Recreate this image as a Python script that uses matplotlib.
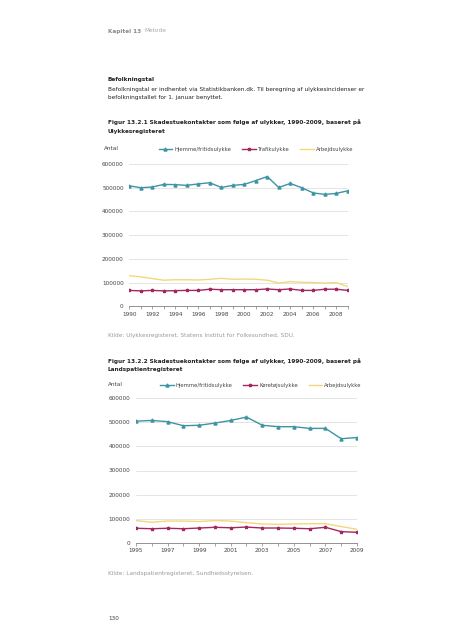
import matplotlib
matplotlib.use("Agg")
import matplotlib.pyplot as plt
from matplotlib.lines import Line2D

# ---------------------------------------------------------- data
years1 = list(range(1990, 2010))
hjemme1 = [508000, 500000, 503000, 514000, 513000, 510000, 516000, 521000, 501000, 510000,
           514000, 530000, 547000, 501000, 518000, 500000, 478000, 472000, 476000, 487000]
trafik1 = [67000, 65000, 67000, 65000, 66000, 67000, 67000, 72000, 70000, 70000,
           70000, 70000, 73000, 70000, 73000, 67000, 67000, 72000, 72000, 67000]
arbejd1 = [129000, 124000, 117000, 110000, 112000, 112000, 111000, 114000, 118000, 114000,
           115000, 114000, 110000, 98000, 104000, 101000, 100000, 98000, 100000, 83000]

years2 = list(range(1995, 2010))
hjemme2 = [505000, 508000, 503000, 486000, 488000, 497000, 508000, 522000, 488000, 482000,
           482000, 475000, 475000, 432000, 437000]
koretoj2 = [60000, 58000, 60000, 58000, 61000, 64000, 62000, 65000, 61000, 61000,
            60000, 58000, 64000, 46000, 43000]
arbejd2 = [92000, 85000, 90000, 90000, 88000, 92000, 90000, 83000, 78000, 76000,
           78000, 79000, 79000, 67000, 56000]

yticks = [0, 100000, 200000, 300000, 400000, 500000, 600000]
labels1 = ["Hjemme/fritidsulykke", "Trafikulykke", "Arbejdsulykke"]
labels2 = ["Hjemme/fritidsulykke", "Køretøjsulykke", "Arbejdsulykke"]

teal = "#3d95a3"
red = "#a3285f"
yellow = "#f3d77a"
fs = 4.15
W, H = 452, 640

fig = plt.figure(figsize=(W / 100, H / 100), dpi=100)


def txt(x, y, s, **kw):
    kw.setdefault("fontsize", fs)
    kw.setdefault("color", "#222222")
    fig.text(x / W, 1 - y / H, s, va="center", ha=kw.pop("ha", "left"), **kw)


def chart(rect, years, series, tick_years):
    ax = fig.add_axes(rect)
    ax.plot(years, series[0], color=teal, lw=1.0, marker="^", ms=2.2)
    ax.plot(years, series[1], color=red, lw=1.0, marker="*", ms=2.4)
    ax.plot(years, series[2], color=yellow, lw=1.0)
    ax.set_xlim(years[0], years[-1])
    ax.set_ylim(0, 600000)
    ax.set_yticks(yticks)
    ax.set_yticklabels([str(v) for v in yticks])
    ax.set_xticks(years, minor=True)
    ax.set_xticks(tick_years)
    ax.set_xticklabels([str(y) for y in tick_years])
    ax.grid(axis="y", color="#d9d9d9", lw=0.5)
    ax.set_axisbelow(True)
    for s in ["top", "right", "left"]:
        ax.spines[s].set_visible(False)
    ax.spines["bottom"].set_color("#808080")
    ax.spines["bottom"].set_linewidth(0.6)
    ax.tick_params(axis="y", length=0, labelsize=fs, colors="#444444", pad=4)
    ax.tick_params(axis="x", which="both", length=2, width=0.5, color="#808080",
                   labelsize=fs, labelcolor="#444444", pad=2)
    handles = [Line2D([], [], color=teal, lw=1.0, marker="^", ms=2.2),
               Line2D([], [], color=red, lw=1.0, marker="*", ms=2.4),
               Line2D([], [], color=yellow, lw=1.0)]
    return ax, handles


def legend(handles, labels, x, y):
    leg = fig.legend(handles, labels, loc="center", bbox_to_anchor=(x / W, 1 - y / H),
                     ncol=3, frameon=False, fontsize=3.8, handlelength=2.6,
                     columnspacing=2.0, handletextpad=0.4)
    for t in leg.get_texts():
        t.set_color("#444444")


# ---------------------------------------------------------- page text
fig.text(108 / W, 1 - 31 / H, "Kapitel 13", fontsize=fs, color="#8a8a8a",
         fontweight="bold", va="center")
fig.text(144 / W, 1 - 31 / H, "Metode", fontsize=fs, color="#a8a8a8", va="center")

txt(108, 79, "Befolkningstal", fontweight="bold")
txt(108, 89, "Befolkningstal er indhentet via Statistikbanken.dk. Til beregning af ulykkesincidenser er")
txt(108, 97.5, "befolkningstallet for 1. januar benyttet.")

txt(108, 122, "Figur 13.2.1 Skadestuekontakter som følge af ulykker, 1990-2009, baseret på",
    fontweight="bold")
txt(108, 131, "Ulykkesregisteret", fontweight="bold")

# ---------------------------------------------------------- chart 1
ax1, h1 = chart([129.3 / W, 1 - 306.3 / H, (347.7 - 129.3) / W, (306.3 - 164) / H],
                years1, [hjemme1, trafik1, arbejd1], list(range(1990, 2010, 2)))
txt(104, 149, "Antal", color="#444444")
legend(h1, labels1, 256, 149)

txt(108, 336, "Kilde: Ulykkesregisteret, Statens Institut for Folkesundhed, SDU.", color="#9a9a9a")

txt(108, 361, "Figur 13.2.2 Skadestuekontakter som følge af ulykker, 1990-2009, baseret på",
    fontweight="bold")
txt(108, 369.5, "Landspatientregisteret", fontweight="bold")

# ---------------------------------------------------------- chart 2
ax2, h2 = chart([136 / W, 1 - 542.7 / H, (357 - 136) / W, (542.7 - 398.3) / H],
                years2, [hjemme2, koretoj2, arbejd2], list(range(1995, 2010, 2)))
txt(108, 384, "Antal", color="#444444")
legend(h2, labels2, 261, 385)

txt(108, 573, "Kilde: Landspatientregisteret, Sundhedsstyrelsen.", color="#9a9a9a")
txt(108, 618, "130", color="#444444")

fig.savefig("out.png", dpi=100)
